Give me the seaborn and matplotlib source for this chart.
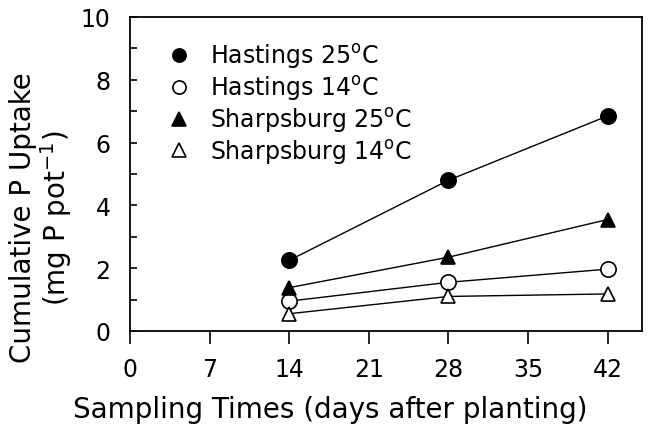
import matplotlib
matplotlib.use("Agg")
import matplotlib.pyplot as plt
import seaborn as sns
import pandas as pd

days = [14, 28, 42]
hastings_25 = [2.25, 4.80, 6.85]
hastings_14 = [0.95, 1.55, 1.97]
sharpsburg_25 = [1.38, 2.35, 3.55]
sharpsburg_14 = [0.55, 1.10, 1.18]
series_labels = ["Hastings 25$^{\\rm o}$C", "Hastings 14$^{\\rm o}$C",
                 "Sharpsburg 25$^{\\rm o}$C", "Sharpsburg 14$^{\\rm o}$C"]
x_ticks = [0, 7, 14, 21, 28, 35, 42]
y_ticks = [0, 2, 4, 6, 8, 10]

sns.set_theme(style="ticks")
plt.rcParams['font.family'] = ['DejaVu Sans']
for k in ["text.color", "axes.labelcolor", "xtick.color", "ytick.color", "axes.edgecolor"]:
    plt.rcParams[k] = "black"

rows = []
for lab, vals in zip(series_labels, [hastings_25, hastings_14, sharpsburg_25, sharpsburg_14]):
    for d, v in zip(days, vals):
        rows.append({"day": d, "uptake": v, "series": lab})
df = pd.DataFrame(rows)

fig = plt.figure(figsize=(6.49, 4.27), dpi=100)
ax = fig.add_axes([0.2003, 0.2225, 0.7887, 0.7355])

styles = {
    series_labels[0]: dict(marker="o", mfc="black", ms=11),
    series_labels[1]: dict(marker="o", mfc="white", ms=11),
    series_labels[2]: dict(marker="^", mfc="black", ms=10),
    series_labels[3]: dict(marker="^", mfc="white", ms=10),
}
for lab in series_labels:
    sub = df[df.series == lab]
    sns.lineplot(data=sub, x="day", y="uptake", ax=ax, color="black", lw=1.0,
                 marker=styles[lab]["marker"], markersize=styles[lab]["ms"],
                 markerfacecolor=styles[lab]["mfc"], markeredgecolor="black",
                 markeredgewidth=1.2, label=lab)

ax.set_xlim(0, 45)
ax.set_ylim(0, 10)
ax.set_xticks(x_ticks)
ax.set_xticklabels([str(t) for t in x_ticks])
ax.set_yticks(y_ticks)
ax.set_yticks(range(0, 11), minor=True)
ax.tick_params(axis="x", direction="out", length=9, width=1.2, labelsize=17, pad=10, colors="black")
ax.tick_params(axis="y", which="both", direction="in", length=5, width=1.2, labelsize=17, pad=14, colors="black")
ax.tick_params(axis="y", which="minor", labelleft=False)
for sp in ax.spines.values():
    sp.set_visible(True)
    sp.set_linewidth(1.3)
    sp.set_color("black")

ax.set_xlabel("Sampling Times (days after planting)", fontsize=20)
ax.xaxis.set_label_coords((330 - 130) / 512, -(396 - 332) / 314)
ax.set_ylabel("Cumulative P Uptake\n(mg P pot$^{-1}$)", fontsize=20, linespacing=1.05)
ax.yaxis.set_label_coords(-(130 - 74) / 512, (332 - 218) / 314)

leg = ax.legend(loc="upper left", frameon=False, fontsize=17, handlelength=0.8,
                handletextpad=0.9, labelspacing=0.12, borderaxespad=0.3,
                bbox_to_anchor=(0.045, 0.975))
for h in leg.legend_handles:
    h.set_linestyle("none")
    h.set_markersize(9.5)
for t in leg.get_texts():
    t.set_color("black")

fig.savefig("out.png", dpi=100)
